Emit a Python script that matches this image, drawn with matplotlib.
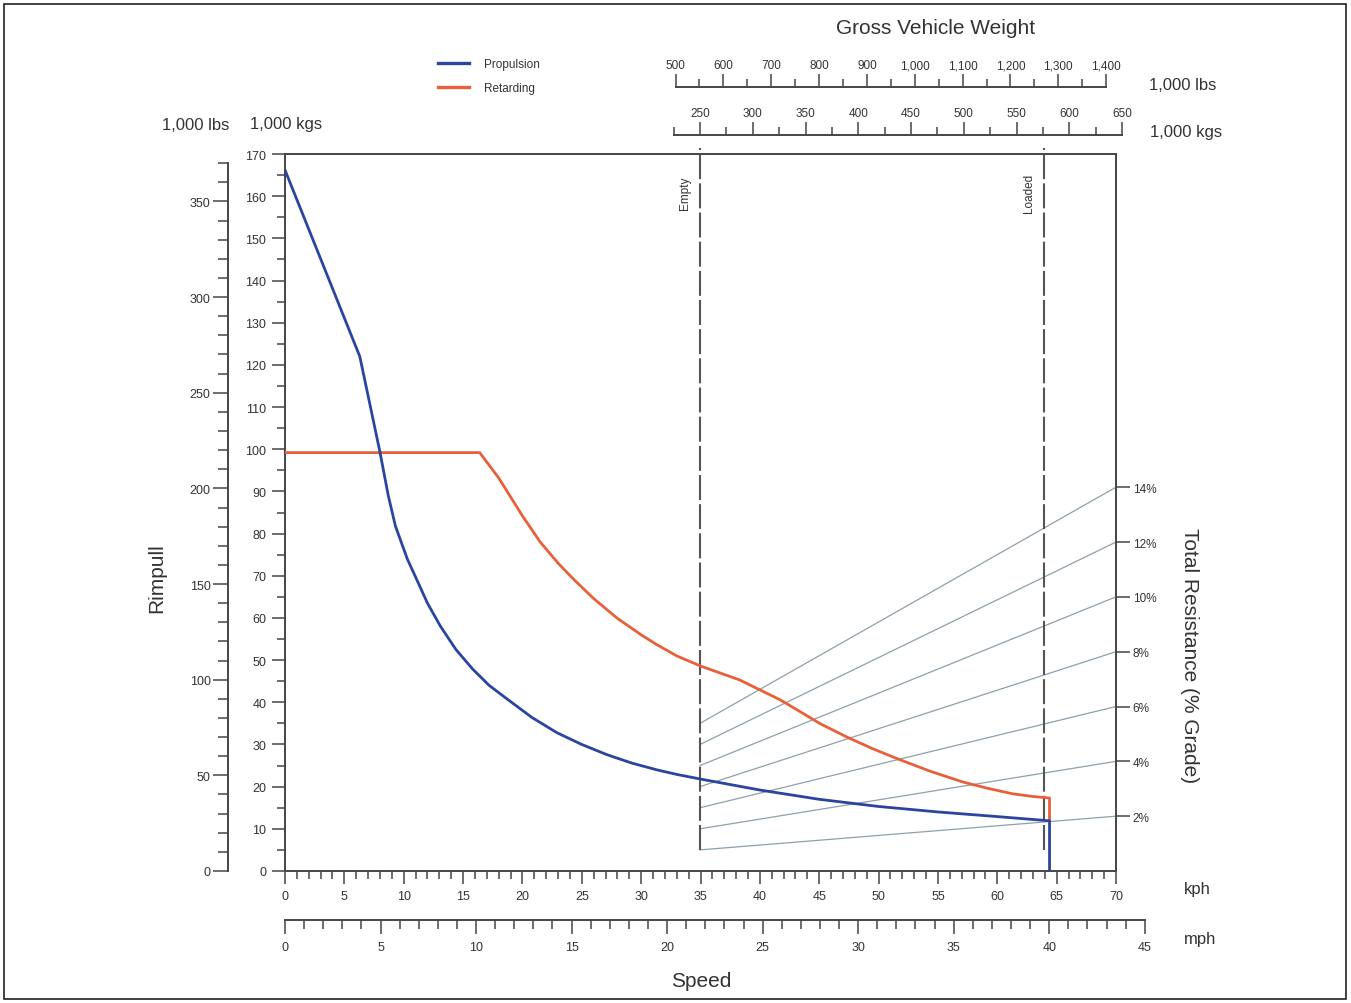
import numpy as np
import matplotlib.pyplot as plt
from matplotlib.patches import Rectangle
from matplotlib.ticker import FuncFormatter

plt.rcParams['font.family'] = ['Liberation Sans', 'DejaVu Sans']

# ---------------------------
# Data (rimpull in 1,000 kg, speed in kph)
# ---------------------------
prop_kph = [0, 6.3, 7.2, 8.0, 8.7, 9.3, 10.3, 11.0, 12.0, 13.1, 14.4, 15.8, 17.2,
            18.7, 20.8, 22.9, 25.0, 27.1, 29.2, 31.3, 33.0, 35.0, 40.0, 45.0, 50.0,
            55.0, 60.0, 64.4, 64.4]
prop_kg = [166.2, 122.0, 110.0, 99.3, 89.0, 81.8, 74.0, 69.7, 63.5, 58.0, 52.5,
           47.9, 44.0, 40.8, 36.4, 32.8, 30.0, 27.6, 25.6, 24.0, 22.9, 21.8, 19.2,
           17.0, 15.3, 14.0, 12.9, 11.9, 0]

ret_kph = [0, 16.4, 18.0, 20.0, 21.5, 23.0, 24.3, 26.0, 28.0, 30.0, 31.3, 33.0,
           35.0, 38.3, 41.7, 43.5, 45.1, 47.3, 49.5, 51.6, 54.3, 57.1, 59.2,
           61.3, 62.9, 64.4, 64.4]
ret_kg = [99.2, 99.2, 93.2, 84.2, 78.0, 73.0, 69.2, 64.6, 59.9, 56.0, 53.7, 51.0,
          48.6, 45.3, 40.6, 37.6, 34.9, 31.8, 29.0, 26.6, 23.7, 21.1, 19.6,
          18.3, 17.7, 17.3, 11.9]

grades = [2, 4, 6, 8, 10, 12, 14]          # % grade
gvw_empty = 250                             # 1,000 kg
gvw_loaded = 576
gvw_max = 650

KG_PER_LB = 0.45359
KPH_PER_MPH = 1.609344

BLUE = '#2a44a0'
ORANGE = '#e8603a'
GRID = '#8ea0aa'
DARK = '#454545'
TXT = '#333333'

W, H, DPI = 1351, 1004, 100


def px_box(l, t, r, b):
    return [l / W, 1 - b / H, (r - l) / W, (b - t) / H]


# layout (pixels)
AX_L, AX_R, AX_T, AX_B = 285, 1116, 155, 872
PX_PER_KPH = (AX_R - AX_L) / 70.0
GVW_PX0, GVW_PX_PER_KG = 700, 1.055          # 250 (1,000 kg) sits at x=700


def gvw_to_px(kg):
    return GVW_PX0 + (kg - gvw_empty) * GVW_PX_PER_KG


def px_to_kph(px):
    return (px - AX_L) / PX_PER_KPH


def px_to_gvw(px):
    return gvw_empty + (px - GVW_PX0) / GVW_PX_PER_KG


fig = plt.figure(figsize=(W / DPI, H / DPI), dpi=DPI)
fig.patches.append(Rectangle((4 / W, 4 / H), 1 - 9 / W, 1 - 9 / H, transform=fig.transFigure,
                             fill=False, ec='#222222', lw=1.2))

tick_kw = dict(direction='out', colors=DARK, labelcolor=TXT, width=1.1)

# ---------------------------
# Main axes
# ---------------------------
ax = fig.add_axes(px_box(AX_L, AX_T, AX_R, AX_B))
ax.set_xlim(0, 70)
ax.set_ylim(0, 170)
for s in ax.spines.values():
    s.set_color(DARK)
    s.set_linewidth(1.4)

ax.set_xticks(range(0, 71, 5))
ax.set_xticks(range(0, 71, 1), minor=True)
ax.set_yticks(range(0, 171, 10))
ax.set_yticks(range(0, 171, 5), minor=True)
ax.tick_params(which='major', length=9.4, labelsize=9, pad=4, **tick_kw)
ax.tick_params(which='minor', length=5.8, **tick_kw)

# grade lines
k_empty = px_to_kph(gvw_to_px(gvw_empty))
k_loaded = px_to_kph(gvw_to_px(gvw_loaded))
for g in grades:
    ax.plot([k_empty, 70], [g / 100 * gvw_empty, g / 100 * gvw_max],
            color=GRID, lw=0.9, zorder=2)

# empty / loaded markers
y_low = min(grades) / 100 * gvw_empty
for k, name in [(k_empty, 'Empty'), (k_loaded, 'Loaded')]:
    ax.plot([k, k], [y_low, 171.5], color='#555555', lw=1.5,
            linestyle=(0, (12, 2)), zorder=2, clip_on=False)
    ax.text(k - 1.25, 161, name, rotation=90, ha='center', va='center',
            fontsize=8.5, color=TXT)

line_p, = ax.plot(prop_kph, prop_kg, color=BLUE, lw=2.0, zorder=5, label='Propulsion')
line_r, = ax.plot(ret_kph, ret_kg, color=ORANGE, lw=2.0, zorder=4, label='Retarding')

# right axis: total resistance
ax2 = ax.twinx()
ax2.set_ylim(0, 170 / gvw_max * 100)
ax2.set_yticks(grades)
ax2.set_yticklabels([f'{g}%' for g in grades])
ax2.tick_params(which='major', length=10, labelsize=8.5, pad=2, **tick_kw)
for s in ax2.spines.values():
    s.set_visible(False)

# ---------------------------
# Left lbs axis
# ---------------------------
ax_lb = fig.add_axes(px_box(228, AX_T, 238, AX_B))
ax_lb.set_ylim(0, 170 / KG_PER_LB)
ax_lb.patch.set_visible(False)
for name, s in ax_lb.spines.items():
    s.set_visible(name == 'left')
ax_lb.spines['left'].set_color(DARK)
ax_lb.spines['left'].set_linewidth(1.4)
ax_lb.spines['left'].set_bounds(0, 370)
ax_lb.set_xticks([])
ax_lb.set_yticks(range(0, 351, 50))
ax_lb.set_yticks(range(0, 371, 10), minor=True)
ax_lb.tick_params(which='major', length=10.5, labelsize=9, pad=2, **tick_kw)
ax_lb.tick_params(which='minor', length=7, **tick_kw)

# ---------------------------
# mph axis
# ---------------------------
mph_right = AX_L + 45 * KPH_PER_MPH * PX_PER_KPH
ax_mph = fig.add_axes(px_box(AX_L, 910, mph_right, 921))
ax_mph.set_xlim(0, 45)
ax_mph.patch.set_visible(False)
for name, s in ax_mph.spines.items():
    s.set_visible(name == 'bottom')
ax_mph.spines['bottom'].set_color(DARK)
ax_mph.spines['bottom'].set_linewidth(1.4)
ax_mph.set_yticks([])
ax_mph.set_xticks(range(0, 46, 5))
ax_mph.set_xticks(range(0, 46, 1), minor=True)
ax_mph.tick_params(which='major', length=10, labelsize=9, pad=5, **tick_kw)
ax_mph.tick_params(which='minor', length=6.2, **tick_kw)

# ---------------------------
# Gross vehicle weight axes (top)
# ---------------------------
G_L, G_R = 600, 1140
kg_lim = (px_to_gvw(G_L), px_to_gvw(G_R))


def gvw_axis(top_px, lim, bounds, majors, minors):
    a = fig.add_axes(px_box(G_L, top_px, G_R, top_px + 10))
    a.set_xlim(*lim)
    a.patch.set_visible(False)
    for name, s in a.spines.items():
        s.set_visible(name == 'bottom')
    a.spines['bottom'].set_color(DARK)
    a.spines['bottom'].set_linewidth(1.4)
    a.spines['bottom'].set_bounds(*bounds)
    a.set_yticks([])
    a.set_xticks(majors)
    a.set_xticks(minors, minor=True)
    a.tick_params(which='both', direction='in', bottom=True, top=False,
                  labelbottom=False, labeltop=True, colors=DARK, labelcolor=TXT, width=1.1)
    a.tick_params(which='major', length=9.4, labelsize=8.5, pad=4)
    a.tick_params(which='minor', length=5.8)
    a.xaxis.set_major_formatter(FuncFormatter(lambda v, p: f'{int(round(v)):,}'))
    return a


gvw_axis(78, (kg_lim[0] / KG_PER_LB, kg_lim[1] / KG_PER_LB), (500, 1400),
         range(500, 1401, 100), range(550, 1400, 100))
gvw_axis(126, kg_lim, (225, 650), range(250, 651, 50), range(225, 651, 50))

# ---------------------------
# Labels
# ---------------------------
def ftext(x, y, s, size, **kw):
    fig.text(x / W, 1 - y / H, s, fontsize=size, color=TXT, ha='center', va='center', **kw)


ftext(936, 29, 'Gross Vehicle Weight', 15)
ftext(1183, 86, '1,000 lbs', 12)
ftext(1186, 133, '1,000 kgs', 12)
ftext(196, 125, '1,000 lbs', 12)
ftext(286, 125, '1,000 kgs', 12)
ftext(157, 578, 'Rimpull', 15, rotation=90)
ftext(1190, 656, 'Total Resistance (% Grade)', 15, rotation=-90)
ftext(1197, 890, 'kph', 12)
ftext(1200, 940, 'mph', 12)
ftext(701, 982, 'Speed', 15)

leg = fig.legend(handles=[line_p, line_r], loc='upper left',
                 bbox_to_anchor=(438 / W, 1 - 59 / H), frameon=False, fontsize=8.5,
                 handlelength=2.6, handletextpad=1.3, labelspacing=1.05,
                 borderpad=0, borderaxespad=0)
for h in leg.legend_handles:
    h.set_linewidth(2.4)
for t in leg.get_texts():
    t.set_color(TXT)

fig.savefig('out.png', dpi=DPI)
